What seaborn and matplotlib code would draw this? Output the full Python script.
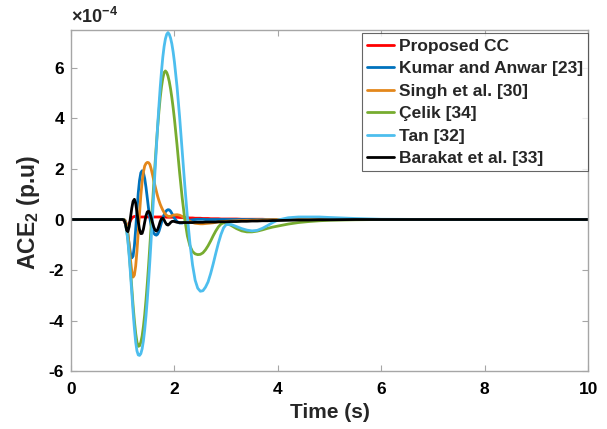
import numpy as np
import pandas as pd
import matplotlib
matplotlib.use("Agg")
import matplotlib.pyplot as plt
import seaborn as sns

# Sampling instants (s): dense during the transient, coarse afterwards
t = np.r_[0.0, 0.95,
          np.linspace(1.0, 2.0, 41),
          np.linspace(2.05, 3.0, 20),
          np.linspace(3.1, 4.0, 10),
          [4.2, 4.4, 4.6, 4.8, 5.0, 5.5, 6.0, 7.0, 8.0, 10.0]]

# ACE2 deviation of each controller, in units of 1e-4 p.u.
proposed_cc = ([0, 0] +
    [0, -0.05, -0.17, -0.28, -0.27, -0.16, -0.04, 0.05, 0.1, 0.12, 0.12,
     0.11, 0.1, 0.1, 0.1, 0.1, 0.1, 0.1, 0.1, 0.1, 0.1] +
    [0.1, 0.1, 0.1, 0.1, 0.1, 0.1, 0.1, 0.1, 0.1, 0.1, 0.1, 0.1, 0.1,
     0.09, 0.09, 0.09, 0.09, 0.09, 0.09, 0.09] +
    [0.09, 0.08, 0.08, 0.07, 0.07, 0.06, 0.06, 0.05, 0.05, 0.05, 0.04,
     0.04, 0.04, 0.03, 0.03, 0.03, 0.03, 0.02, 0.02, 0.02] +
    [0.02, 0.02, 0.01, 0.01, 0.01, 0.01, 0.01, 0, 0, 0] +
    [0] * 10)

kumar_anwar = ([0, 0] +
    [0, 0, -0.05, -0.25, -0.6, -1.0, -1.35, -1.52, -1.45, -1.05, -0.4,
     0.35, 1.05, 1.55, 1.85, 1.93, 1.85, 1.62, 1.27, 0.85, 0.42] +
    [0.05, -0.25, -0.42, -0.54, -0.6, -0.62, -0.58, -0.47, -0.3, -0.12,
     0.05, 0.19, 0.3, 0.36, 0.39, 0.38, 0.33, 0.24, 0.14, 0.05] +
    [-0.08, -0.14, -0.14, -0.1, -0.06, -0.03, -0.01, 0.0, 0.01, 0.01,
     0.01, 0, 0, 0, 0, 0, 0, 0, 0, 0] +
    [0] * 10 +
    [0] * 10)

singh = ([0, 0] +
    [0, 0, -0.05, -0.2, -0.55, -1.05, -1.6, -2.05, -2.28, -2.2, -1.85,
     -1.25, -0.5, 0.25, 0.95, 1.5, 1.88, 2.12, 2.22, 2.26, 2.25] +
    [2.18, 2.0, 1.78, 1.55, 1.33, 1.12, 0.92, 0.75, 0.6, 0.48, 0.37,
     0.28, 0.21, 0.16, 0.13, 0.12, 0.13, 0.15, 0.17, 0.18] +
    [0.19, 0.17, 0.12, 0.05, -0.02, -0.08, -0.12, -0.15, -0.16, -0.17,
     -0.17, -0.16, -0.15, -0.14, -0.13, -0.11, -0.1, -0.09, -0.08, -0.07] +
    [-0.06, -0.05, -0.04, -0.03, -0.03, -0.02, -0.02, -0.01, -0.01, 0] +
    [0] * 10)

celik = ([0, 0] +
    [0, -0.03, -0.14, -0.4, -0.8, -1.35, -2.0, -2.7, -3.4, -4.0, -4.5,
     -4.85, -5.02, -5.0, -4.86, -4.61, -4.23, -3.76, -3.18, -2.53, -1.81] +
    [-1.03, -0.23, 0.59, 1.41, 2.21, 2.96, 3.66, 4.28, 4.83, 5.26, 5.59,
     5.82, 5.88, 5.82, 5.68, 5.46, 5.17, 4.82, 4.42, 3.97] +
    [2.95, 1.85, 0.85, 0.0, -0.65, -1.05, -1.27, -1.36, -1.39, -1.38,
     -1.32, -1.2, -1.04, -0.85, -0.64, -0.45, -0.29, -0.18, -0.13, -0.14] +
    [-0.24, -0.36, -0.45, -0.49, -0.49, -0.46, -0.41, -0.35, -0.3, -0.26] +
    [-0.18, -0.12, -0.08, -0.05, -0.03, -0.01, 0, 0, 0, 0])

tan = ([0, 0] +
    [0, -0.03, -0.15, -0.42, -0.85, -1.45, -2.15, -2.9, -3.65, -4.3, -4.85,
     -5.2, -5.36, -5.38, -5.31, -5.12, -4.8, -4.36, -3.81, -3.17, -2.43] +
    [-1.63, -0.77, 0.12, 1.04, 1.95, 2.84, 3.7, 4.5, 5.24, 5.88, 6.43,
     6.85, 7.15, 7.33, 7.4, 7.33, 7.18, 6.95, 6.63, 6.23] +
    [5.25, 4.05, 2.7, 1.35, 0.1, -0.95, -1.8, -2.4, -2.72, -2.84,
     -2.82, -2.68, -2.47, -2.14, -1.75, -1.33, -0.93, -0.59, -0.33, -0.2] +
    [-0.2, -0.28, -0.36, -0.42, -0.45, -0.43, -0.35, -0.24, -0.12, -0.02] +
    [0.07, 0.1, 0.1, 0.1, 0.08, 0.04, 0.01, 0, 0, 0])

barakat = ([0, 0] +
    [0, -0.02, -0.15, -0.42, -0.48, -0.28, 0.08, 0.45, 0.72, 0.8, 0.65,
     0.3, -0.1, -0.4, -0.56, -0.55, -0.38, -0.1, 0.15, 0.3, 0.33] +
    [0.25, 0.08, -0.12, -0.3, -0.42, -0.46, -0.4, -0.25, -0.08, 0.03,
     0.05, -0.02, -0.12, -0.2, -0.22, -0.18, -0.12, -0.08, -0.07, -0.08] +
    [-0.11, -0.12, -0.12, -0.12, -0.12, -0.12, -0.12, -0.11, -0.11, -0.11,
     -0.11, -0.1, -0.1, -0.1, -0.1, -0.1, -0.09, -0.09, -0.09, -0.09] +
    [-0.08, -0.08, -0.07, -0.07, -0.06, -0.06, -0.05, -0.05, -0.04, -0.04] +
    [-0.03, -0.02, -0.02, -0.01, -0.01, 0, 0, 0, 0, 0])

series_names = ["Proposed CC", "Kumar and Anwar [23]", "Singh et al. [30]",
                "Çelik [34]", "Tan [32]", "Barakat et al. [33]"]
series_values = [proposed_cc, kumar_anwar, singh, celik, tan, barakat]
series_colors = ["#FF0000", "#0072BD", "#E3871C", "#77AC30", "#4DBEEE", "#000000"]

x_ticks = [0, 2, 4, 6, 8, 10]
y_ticks = [-6, -4, -2, 0, 2, 4, 6]

frames = [pd.DataFrame({"t": t, "ace": vals, "controller": name})
          for name, vals in zip(series_names, series_values)]
df = pd.concat(frames, ignore_index=True)

sns.set_style("white")
plt.rcParams["font.family"] = ["Liberation Sans", "DejaVu Sans"]
plt.rcParams["font.weight"] = "bold"
plt.rcParams["mathtext.fontset"] = "custom"
plt.rcParams["mathtext.rm"] = "Liberation Sans"
plt.rcParams["mathtext.bf"] = "Liberation Sans:bold"

fig = plt.figure(figsize=(6.07, 4.29), dpi=100)
ax = fig.add_axes([0.117, 0.135, 0.852, 0.795])

sns.lineplot(data=df, x="t", y="ace", hue="controller", hue_order=series_names,
             palette=dict(zip(series_names, series_colors)), linewidth=2.0,
             estimator=None, sort=False, ax=ax)

ax.set_xlim(0, 10)
ax.set_ylim(-6, 7.5)
ax.set_xticks(x_ticks)
ax.set_yticks(y_ticks)
ax.set_xticklabels([str(v) for v in x_ticks], fontsize=12.5, fontweight="bold")
ax.set_yticklabels([str(v) for v in y_ticks], fontsize=12.5, fontweight="bold")

axis_grey = "#a6a6a6"
for side in ["left", "right", "top", "bottom"]:
    ax.spines[side].set_visible(True)
    ax.spines[side].set_color(axis_grey)
    ax.spines[side].set_linewidth(1.0)
ax.tick_params(direction="in", length=4, width=0.8, color=axis_grey,
               top=True, right=True, bottom=True, left=True,
               labelcolor="black")
ax.tick_params(axis="x", pad=8)
ax.tick_params(axis="y", pad=5)

ax.set_xlabel("Time (s)", fontsize=15, fontweight="bold", labelpad=4)
ax.set_ylabel(r"ACE$_\mathbf{2}$ (p.u)", fontsize=16.5, fontweight="bold")
ax.yaxis.set_label_coords(-0.057, 0.465)

ax.text(0.0, 1.008, r"$\times\mathbf{10^{-4}}$", transform=ax.transAxes,
        ha="left", va="bottom", fontsize=13)

handles, labels = ax.get_legend_handles_labels()
leg = ax.legend(handles, labels, loc="upper right", bbox_to_anchor=(1.0, 0.99),
                borderaxespad=0.0, frameon=True, fancybox=False,
                handlelength=1.55, handletextpad=0.3, labelspacing=0.42,
                borderpad=0.3, prop={"weight": "bold", "size": 12.5})
leg.get_frame().set_edgecolor("#404040")
leg.get_frame().set_linewidth(0.8)
for line in leg.get_lines():
    line.set_linewidth(2.0)

fig.savefig("out.png", dpi=100)
